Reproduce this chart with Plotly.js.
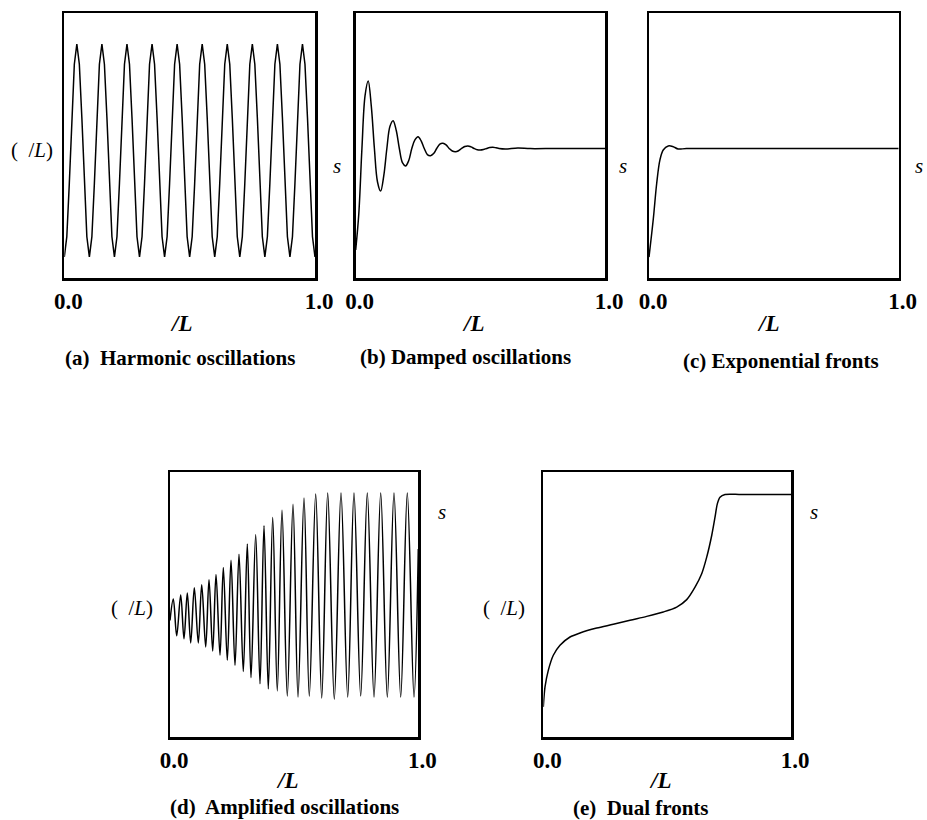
<!DOCTYPE html>
<html>
<head>
<meta charset="utf-8">
<script src="https://cdn.plot.ly/plotly-3.0.1.min.js"></script>
<style>html,body{margin:0;padding:0;background:#fff;}</style>
</head>
<body>
<div id="chart" style="width:927px;height:820px;"></div>
<script>
// ---------- data ----------
const tickVals = [0, 1];
const tickText = ["0.0", "1.0"];

// (a) Harmonic oscillations
const aX = [0,0.01,0.02,0.03,0.04,0.05,0.06,0.07,0.08,0.09,
  0.10,0.11,0.12,0.13,0.14,0.15,0.16,0.17,0.18,0.19,
  0.20,0.21,0.22,0.23,0.24,0.25,0.26,0.27,0.28,0.29,
  0.30,0.31,0.32,0.33,0.34,0.35,0.36,0.37,0.38,0.39,
  0.40,0.41,0.42,0.43,0.44,0.45,0.46,0.47,0.48,0.49,
  0.50,0.51,0.52,0.53,0.54,0.55,0.56,0.57,0.58,0.59,
  0.60,0.61,0.62,0.63,0.64,0.65,0.66,0.67,0.68,0.69,
  0.70,0.71,0.72,0.73,0.74,0.75,0.76,0.77,0.78,0.79,
  0.80,0.81,0.82,0.83,0.84,0.85,0.86,0.87,0.88,0.89,
  0.90,0.91,0.92,0.93,0.94,0.95,0.96,0.97,0.98,0.99,1.00];
const aY = [-1,-0.81,-0.31,0.31,0.81,1,0.81,0.31,-0.31,-0.81,
  -1,-0.81,-0.31,0.31,0.81,1,0.81,0.31,-0.31,-0.81,
  -1,-0.81,-0.31,0.31,0.81,1,0.81,0.31,-0.31,-0.81,
  -1,-0.81,-0.31,0.31,0.81,1,0.81,0.31,-0.31,-0.81,
  -1,-0.81,-0.31,0.31,0.81,1,0.81,0.31,-0.31,-0.81,
  -1,-0.81,-0.31,0.31,0.81,1,0.81,0.31,-0.31,-0.81,
  -1,-0.81,-0.31,0.31,0.81,1,0.81,0.31,-0.31,-0.81,
  -1,-0.81,-0.31,0.31,0.81,1,0.81,0.31,-0.31,-0.81,
  -1,-0.81,-0.31,0.31,0.81,1,0.81,0.31,-0.31,-0.81,
  -1,-0.81,-0.31,0.31,0.81,1,0.81,0.31,-0.31,-0.81,-1];

// (b) Damped oscillations
const bX = [0,0.0125,0.025,0.0375,0.05,0.0625,0.075,0.0875,0.1,0.1125,
  0.125,0.1375,0.15,0.1625,0.175,0.1875,0.2,0.2125,
  0.225,0.2375,0.25,0.2625,0.275,0.2875,0.3,0.3125,
  0.325,0.3375,0.35,0.3625,0.375,0.3875,0.4,0.4125,
  0.425,0.4375,0.45,0.4625,0.475,0.4875,0.5,0.5125,
  0.525,0.5375,0.55,0.5625,0.575,
  0.6,0.65,0.7,0.8,0.9,1.0];
const bY = [0,0.36,1.0,1.52,1.665,1.42,1.0,0.67,0.58,0.73,
  1.0,1.22,1.274,1.18,1.0,0.86,0.828,0.88,
  1.0,1.085,1.116,1.075,1.0,0.94,0.929,0.95,
  1.0,1.043,1.051,1.035,1.0,0.975,0.968,0.978,
  1.0,1.019,1.025,1.016,1.0,0.988,0.985,0.99,
  1.0,1.009,1.012,1.007,1.0,
  0.995,1.004,0.999,1.0,1.0,1.0];

// (c) Exponential fronts
const cX = [0,0.017,0.031,0.044,0.057,0.077,0.097,0.117,0.15,0.3,0.5,0.7,1.0];
const cY = [-0.07,0.30,0.66,0.89,0.985,1.025,1.018,0.995,1.0,1.0,1.0,1.0,1.0];

// (d) Amplified oscillations
const dX = [0,0.0133,0.0270,0.0431,0.0564,0.0697,0.0834,0.0979,0.1140,0.1277,0.1438,
  0.1571,0.1720,0.1853,0.2014,0.2147,0.2308,0.2457,0.2618,0.2779,0.2952,
  0.3113,0.3262,0.3451,0.3625,0.3786,0.3959,0.4136,0.4321,0.4511,0.4724,
  0.4954,0.5155,0.5397,0.5610,0.5868,0.6110,0.6351,0.6617,0.6887,0.7157,
  0.7410,0.7680,0.7946,0.8216,0.8486,0.8752,0.9021,0.9291,0.9557,0.9827,1.0];
const dY = [-0.25,-0.04,-0.40,0.0,-0.43,0.02,-0.47,0.07,-0.47,0.10,-0.51,
  0.15,-0.55,0.20,-0.59,0.27,-0.64,0.34,-0.69,0.40,-0.75,
  0.50,-0.81,0.59,-0.87,0.68,-0.92,0.76,-0.94,0.83,-0.99,
  0.89,-1.0,0.95,-0.99,0.99,-1.01,1.0,-1.02,1.0,-1.0,
  1.0,-0.99,1.0,-1.0,1.0,-1.0,1.0,-1.0,1.0,-1.0,0.45];

// (e) Dual fronts
const eX = [0,0.0069,0.0202,0.0404,0.0674,0.1078,0.1482,0.2156,0.2826,0.35,0.4174,0.4845,
  0.5386,0.5789,0.6125,0.6395,0.6597,0.6799,0.6932,0.7025,0.7134,0.7336,0.8,1.0];
const eY = [0,0.094,0.172,0.243,0.290,0.329,0.348,0.371,0.389,0.408,0.426,0.447,
  0.470,0.505,0.564,0.627,0.705,0.807,0.893,0.956,0.987,1.0,1.0,1.0];

// ---------- layout ----------
const W = 927, H = 820;
const serif = "Liberation Serif, Times New Roman, serif";
const px = v => v / W;
const py = v => 1 - v / H;

function xaxis(l, r, anchor) {
  return {domain: [px(l), px(r)], anchor: anchor, range: [0, 1], showgrid: false, zeroline: false,
    showline: true, mirror: true, linecolor: "#000", linewidth: 2.5,
    tickmode: "array", tickvals: tickVals, ticktext: tickText, ticks: "",
    ticklabelshift: 4, ticklabelstandoff: 1,
    tickfont: {family: serif, size: 23, color: "#000", weight: "bold"}, fixedrange: true};
}
function yaxis(t, b, rng, anchor) {
  return {domain: [py(b), py(t)], anchor: anchor, range: rng, showgrid: false, zeroline: false,
    showline: true, mirror: true, linecolor: "#000", linewidth: 2.5,
    showticklabels: false, ticks: "", fixedrange: true};
}

const line = {color: "#000", width: 1.5};
const traces = [
  {x: aX, y: aY, xaxis: "x", yaxis: "y", mode: "lines", line: line},
  {x: bX, y: bY, xaxis: "x2", yaxis: "y2", mode: "lines", line: Object.assign({shape: "spline"}, line)},
  {x: cX, y: cY, xaxis: "x3", yaxis: "y3", mode: "lines", line: Object.assign({shape: "spline"}, line)},
  {x: dX, y: dY, xaxis: "x4", yaxis: "y4", mode: "lines", line: Object.assign({shape: "spline"}, line)},
  {x: eX, y: eY, xaxis: "x5", yaxis: "y5", mode: "lines", line: Object.assign({shape: "spline", smoothing: 0.8}, line)}
];

function ann(text, x, y, opts) {
  return Object.assign({text: text, xref: "paper", yref: "paper", x: px(x), y: py(y),
    xanchor: "center", yanchor: "middle", showarrow: false,
    font: {family: serif, size: 21, color: "#000"}}, opts || {});
}
const bold = {family: serif, size: 21, color: "#000", weight: "bold"};
const boldL = {family: serif, size: 23, color: "#000", weight: "bold"};
const ylab = "(\u00a0\u00a0/<i>L</i>)";

const annotations = [
  ann(ylab, 55, 150, {xanchor: "right"}),
  ann(ylab, 155, 608, {xanchor: "right"}),
  ann(ylab, 527, 608, {xanchor: "right"}),
  ann("<i>s</i>", 337, 166),
  ann("<i>s</i>", 623, 166),
  ann("<i>s</i>", 919, 166),
  ann("<i>s</i>", 442, 512),
  ann("<i>s</i>", 814, 512),
  ann("<i>/L</i>", 181, 323, {font: boldL}),
  ann("<i>/L</i>", 473, 323, {font: boldL}),
  ann("<i>/L</i>", 768, 323, {font: boldL}),
  ann("<i>/L</i>", 287, 780, {font: boldL}),
  ann("<i>/L</i>", 660, 780, {font: boldL}),
  ann("(a)\u00a0 Harmonic oscillations", 180, 358, {font: bold}),
  ann("(b) Damped oscillations", 466, 357, {font: bold}),
  ann("(c) Exponential fronts", 781, 361, {font: bold}),
  ann("(d)\u00a0 Amplified oscillations", 284, 807, {font: bold}),
  ann("(e)\u00a0 Dual fronts", 641, 808, {font: bold})
];

const layout = {
  width: W, height: H, margin: {l: 0, r: 0, t: 0, b: 0},
  paper_bgcolor: "#fff", plot_bgcolor: "#fff", showlegend: false,
  xaxis: xaxis(64.3, 315, "y"), yaxis: yaxis(13, 278, [-1.197, 1.291], "x"),
  xaxis2: xaxis(355.7, 605, "y2"), yaxis2: yaxis(13, 278, [-0.276, 2.335], "x2"),
  xaxis3: xaxis(649, 898.7, "y3"), yaxis3: yaxis(13, 278, [-0.276, 2.335], "x3"),
  xaxis4: xaxis(170, 418.3, "y4"), yaxis4: yaxis(472, 737, [-1.392, 1.206], "x4"),
  xaxis5: xaxis(543.3, 791, "y5"), yaxis5: yaxis(472, 737, [-0.142, 1.106], "x5"),
  annotations: annotations
};

Plotly.newPlot("chart", traces, layout, {staticPlot: true, displayModeBar: false});
</script>
</body>
</html>
